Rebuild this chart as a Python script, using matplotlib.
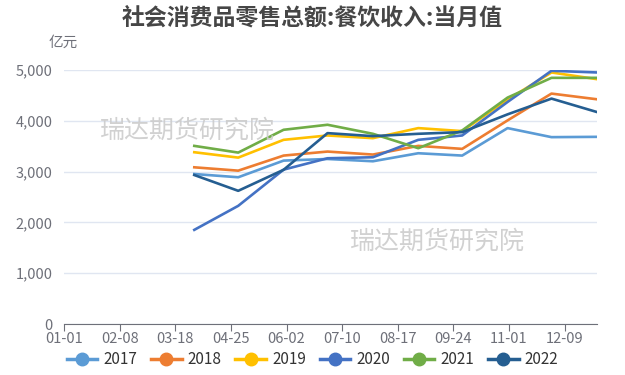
import pandas as pd
import matplotlib.pyplot as plt
import matplotlib.dates as mdates
from matplotlib.ticker import FuncFormatter
from matplotlib.lines import Line2D

plt.rcParams['font.family'] = ['Noto Sans CJK SC', 'DejaVu Sans']

# month-end points, March to December
months = [3, 4, 5, 6, 7, 8, 9, 10, 11, 12]
years = ['2017', '2018', '2019', '2020', '2021', '2022']
v2017 = [2954, 2890, 3218, 3250, 3205, 3363, 3317, 3858, 3680, 3686]
v2018 = [3086, 3020, 3317, 3396, 3337, 3508, 3449, 4010, 4538, 4426]
v2019 = [3383, 3277, 3627, 3713, 3660, 3858, 3799, 4419, 4954, 4822]
v2020 = [1854, 2327, 3040, 3264, 3284, 3627, 3713, 4373, 4987, 4954]
v2021 = [3508, 3376, 3825, 3924, 3746, 3462, 3812, 4459, 4848, 4848]
v2022 = [2934, 2623, 3037, 3759, 3700, 3746, 3779, 4129, 4439, 4175]
series = [v2017, v2018, v2019, v2020, v2021, v2022]
colors = ['#5B9BD5', '#ED7D31', '#FFC000', '#4472C4', '#70AD47', '#255E91']

tick_labels = ['01-01', '02-08', '03-18', '04-25', '06-02', '07-10', '08-17', '09-24', '11-01', '12-09']

base_year = 2021
x = [pd.Timestamp(base_year, m, 1) + pd.offsets.MonthEnd(0) for m in months]
ticks = [pd.Timestamp(f'{base_year}-{t}') for t in tick_labels]

fig = plt.figure(figsize=(6.25, 3.75), dpi=100)
ax = fig.add_axes([0.1024, 0.136, 0.8526, 0.677])

for vals, c in zip(series, colors):
    ax.plot(x, vals, color=c, lw=1.9, solid_joinstyle='round', zorder=3)

ax.set_xlim(pd.Timestamp(base_year, 1, 1), pd.Timestamp(base_year, 12, 31))
ax.set_ylim(0, 5000)
ax.set_xticks(ticks)
ax.xaxis.set_major_formatter(mdates.DateFormatter('%m-%d'))
ax.set_yticks(range(0, 5001, 1000))
ax.yaxis.set_major_formatter(FuncFormatter(lambda v, p: f'{int(v):,}'))

ax.grid(axis='y', color='#E0E6F1', lw=1)
ax.set_axisbelow(True)
for s in ['left', 'right', 'top']:
    ax.spines[s].set_visible(False)
ax.spines['bottom'].set_color('#6E7079')
ax.tick_params(axis='x', colors='#6E7079', labelsize=10.5, length=5, pad=1)
ax.tick_params(axis='y', colors='#6E7079', labelsize=10.5, length=0, pad=8)

fig.text(0.5, 0.953, '社会消费品零售总额:餐饮收入:当月值', ha='center', va='center',
         fontsize=16.5, fontweight='bold', color='#464646')
fig.text(0.078, 0.885, '亿元', ha='left', va='center', fontsize=10.5, color='#6E7079')

fig.text(0.30, 0.653, '瑞达期货研究院', ha='center', va='center', fontsize=18, color='#CCCCCC', alpha=0.9, zorder=0)
fig.text(0.70, 0.357, '瑞达期货研究院', ha='center', va='center', fontsize=18, color='#CCCCCC', alpha=0.9, zorder=0)

handles = [Line2D([0], [0], color=c, lw=2.5, marker='o', markersize=9) for c in colors]
fig.legend(handles, years, loc='center', bbox_to_anchor=(0.5, 0.04), ncol=6, frameon=False,
           fontsize=11, labelcolor='#333333', handlelength=2.0, handletextpad=0.4, columnspacing=0.9)

fig.savefig('out.png', dpi=100)
